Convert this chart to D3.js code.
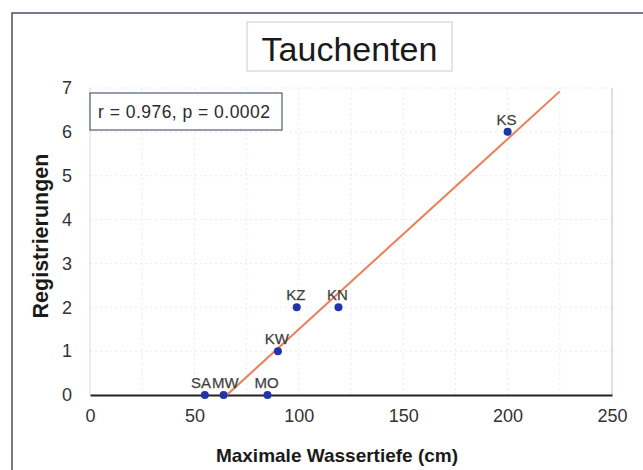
<!DOCTYPE html>
<html>
<head>
<meta charset="utf-8">
<script src="https://cdn.jsdelivr.net/npm/d3@7"></script>
<style>
  html, body { margin: 0; padding: 0; background: #fff; }
  svg { display: block; }
  text { font-family: "Liberation Sans", Arial, sans-serif; }
</style>
</head>
<body>
<svg id="chart" width="643" height="470"></svg>
<script>
// Diving ducks: registrations vs. maximum water depth per site
const sites = ["SA", "MW", "MO", "KW", "KZ", "KN", "KS"];
const depthCm = [55, 64, 85, 90, 99, 119, 200];
const registrations = [0, 0, 0, 1, 2, 2, 6];
const xTicks = [0, 50, 100, 150, 200, 250];
const yTicks = [0, 1, 2, 3, 4, 5, 6, 7];
const titleText = "Tauchenten";
const statText = "r = 0.976, p = 0.0002";
const xTitle = "Maximale Wassertiefe (cm)";
const yTitle = "Registrierungen";
const fitEndX = 225;

const svg = d3.select("#chart");
const W = 643, H = 470;
const plot = { left: 90, right: 612, top: 88, bottom: 395 };

const x = d3.scaleLinear().domain([0, 250]).range([plot.left, plot.right]);
const y = d3.scaleLinear().domain([0, 7]).range([plot.bottom, plot.top]);

// outer chart frame
svg.append("path")
  .attr("d", `M12,${H} L12,13 L${W},13`)
  .attr("fill", "none").attr("stroke", "#4a4d66").attr("stroke-width", 1.5);

// title box
const tg = svg.append("g");
tg.append("rect").attr("x", 247).attr("y", 22).attr("width", 205).attr("height", 49)
  .attr("fill", "#fff").attr("stroke", "#c9ccd6").attr("stroke-width", 1);
tg.append("text").attr("x", 349.5).attr("y", 61).attr("text-anchor", "middle")
  .attr("font-size", 34).attr("fill", "#1a1a1a").text(titleText);

// faint dotted grid
const gx = d3.range(25, 250, 25);
svg.append("g").selectAll("line").data(gx).join("line")
  .attr("x1", d => x(d)).attr("x2", d => x(d))
  .attr("y1", plot.top).attr("y2", plot.bottom)
  .attr("stroke", "#e6ecef").attr("stroke-dasharray", "2,3");
svg.append("g").selectAll("line").data(yTicks.slice(1)).join("line")
  .attr("x1", plot.left).attr("x2", plot.right)
  .attr("y1", d => y(d)).attr("y2", d => y(d))
  .attr("stroke", "#e6ecef").attr("stroke-dasharray", "2,3");

// plot frame: faint left/right, dark baseline
svg.append("line").attr("x1", plot.left).attr("x2", plot.left)
  .attr("y1", plot.top).attr("y2", plot.bottom).attr("stroke", "#d4d8e0");
svg.append("line").attr("x1", plot.right).attr("x2", plot.right)
  .attr("y1", plot.top).attr("y2", plot.bottom).attr("stroke", "#cdd6e2").attr("stroke-width", 1.5);

// axes
const xAxis = d3.axisBottom(x).tickValues(xTicks).tickFormat(d3.format("d"))
  .tickSize(0).tickPadding(14);
const gxA = svg.append("g").attr("transform", `translate(0,${plot.bottom})`).call(xAxis);
gxA.select(".domain").attr("stroke", "#222").attr("stroke-width", 2);
gxA.selectAll("text").attr("font-size", 18).attr("fill", "#333")
  .attr("font-family", "'Liberation Sans', Arial, sans-serif");

const yAxis = d3.axisLeft(y).tickValues(yTicks).tickFormat(d3.format("d"))
  .tickSize(0).tickPadding(18);
const gyA = svg.append("g").attr("transform", `translate(${plot.left},0)`).call(yAxis);
gyA.select(".domain").remove();
gyA.selectAll("text").attr("font-size", 18).attr("fill", "#333")
  .attr("font-family", "'Liberation Sans', Arial, sans-serif");

// axis titles
svg.append("text").attr("x", 337).attr("y", 462).attr("text-anchor", "middle")
  .attr("font-size", 19).attr("font-weight", "bold").attr("fill", "#1a1a1a").text(xTitle);
svg.append("text").attr("transform", "translate(48,236) rotate(-90)")
  .attr("text-anchor", "middle").attr("font-size", 21.5).attr("font-weight", "bold")
  .attr("fill", "#1a1a1a").text(yTitle);

// least-squares regression line
const pts = depthCm.map((d, i) => ({ x: d, y: registrations[i], name: sites[i] }));
const mx = d3.mean(depthCm), my = d3.mean(registrations);
const sxy = d3.sum(pts, p => (p.x - mx) * (p.y - my));
const sxx = d3.sum(pts, p => (p.x - mx) ** 2);
const slope = sxy / sxx, icpt = my - slope * mx;
const x0 = -icpt / slope;
svg.append("line")
  .attr("x1", x(x0)).attr("y1", y(0))
  .attr("x2", x(fitEndX)).attr("y2", y(icpt + slope * fitEndX))
  .attr("stroke", "#ef7d57").attr("stroke-width", 2);

// points
svg.append("g").selectAll("circle").data(pts).join("circle")
  .attr("cx", p => x(p.x)).attr("cy", p => y(p.y)).attr("r", 4)
  .attr("fill", "#1f35a8");

// site labels above points; nudge neighbours apart when they collide
const labels = svg.append("g").selectAll("text").data(pts).join("text")
  .attr("x", p => x(p.x) - 1).attr("y", p => y(p.y) - 7)
  .attr("text-anchor", "middle").attr("font-size", 15).attr("fill", "#3a3a3a")
  .attr("stroke", "#555").attr("stroke-width", 0.25)
  .text(p => p.name);
const nodes = labels.nodes();
for (let i = 0; i < nodes.length - 1; i++) {
  const a = nodes[i].getBBox(), b = nodes[i + 1].getBBox();
  if (Math.abs(a.y - b.y) < 2 && a.x + a.width > b.x) {
    const gap = (a.x + a.width - b.x) / 2 + 0.5;
    d3.select(nodes[i]).attr("x", +nodes[i].getAttribute("x") - gap);
    d3.select(nodes[i + 1]).attr("x", +nodes[i + 1].getAttribute("x") + gap);
  }
}

// statistics box
svg.append("rect").attr("x", 90).attr("y", 93).attr("width", 192).attr("height", 37)
  .attr("fill", "#fff").attr("stroke", "#555a70").attr("stroke-width", 1.2);
svg.append("text").attr("x", 98).attr("y", 118).attr("font-size", 17.5)
  .attr("fill", "#2a2a2a").attr("textLength", 172).text(statText);
</script>
</body>
</html>
